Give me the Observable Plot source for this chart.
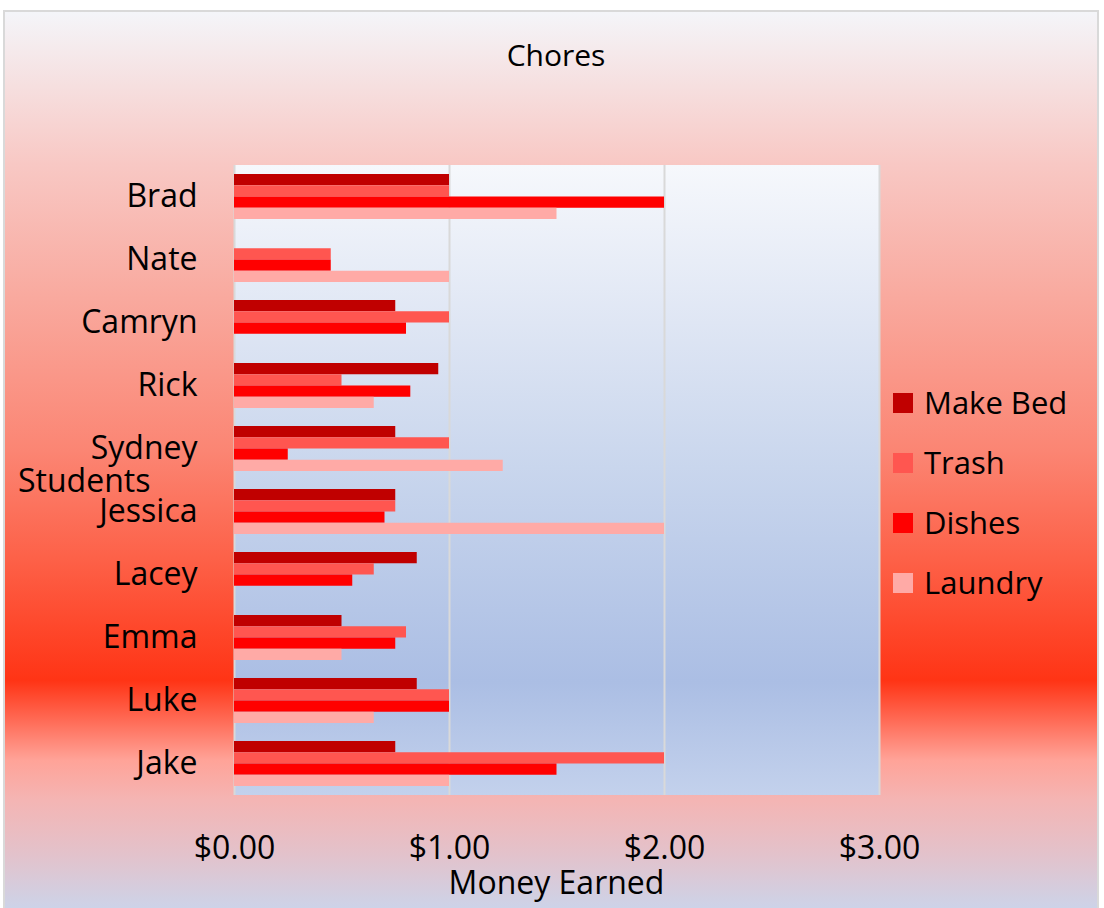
<!DOCTYPE html>
<html>
<head>
<meta charset="utf-8">
<script src="https://cdn.jsdelivr.net/npm/d3@7"></script>
<script src="https://cdn.jsdelivr.net/npm/@observablehq/plot@0.6"></script>
<style>
  html, body { margin: 0; padding: 0; background: #ffffff; }
  body { width: 1104px; height: 908px; position: relative; overflow: hidden; font-family: "Open Sans", sans-serif; }
  #frame { position: absolute; left: 3px; top: 10px; width: 1096px; height: 900px; border: 2px solid #d9d9d9; box-sizing: border-box;
    background: linear-gradient(to bottom, #f4f5f9 0%, #f8c8c4 17%, #f9a99e 32%, #fb8573 49%, #fd6148 61%, #ff3415 74.6%, #ff6a55 79%, #ffa398 83.5%, #f4b5b4 88%, #e3c2cb 94%, #cdd3e8 100%); }
  #plotbg { position: absolute; left: 234px; top: 165px; width: 645px; height: 630px;
    background: linear-gradient(to bottom, #f6f8fc 0%, #dfe6f4 25%, #c9d6ed 48%, #abbee4 82%, #c3d1ec 100%); }
  #chart { position: absolute; left: 0; top: 0; }
  #title { position: absolute; top: 34px; left: 0; width: 1112px; text-align: center; font-size: 30px; color: #000; }
  #ylabel { position: absolute; left: 18px; top: 464px; font-size: 32px; color: #000; line-height: 1; }
  #xlabel { position: absolute; left: 234px; width: 645px; top: 866px; text-align: center; font-size: 32px; color: #000; line-height: 1; }
  #legend { position: absolute; left: 893px; top: 386px; }
  .item { position: absolute; left: 0; height: 36px; white-space: nowrap; }
  .sw { position: absolute; left: 0; top: 7px; width: 20px; height: 20px; }
  .lab { position: absolute; left: 31px; top: -4px; font-size: 31px; line-height: 1.3; color: #000; }
</style>
</head>
<body>
<div id="frame"></div>
<div id="plotbg"></div>
<div id="chart"></div>
<div id="title">Chores</div>
<div id="ylabel">Students</div>
<div id="xlabel">Money Earned</div>
<div id="legend"></div>
<script>
const students = ["Brad", "Nate", "Camryn", "Rick", "Sydney", "Jessica", "Lacey", "Emma", "Luke", "Jake"];
const chores = ["Make Bed", "Trash", "Dishes", "Laundry"];
const makeBed = [1.00, 0.00, 0.75, 0.95, 0.75, 0.75, 0.85, 0.50, 0.85, 0.75];
const trash   = [1.00, 0.45, 1.00, 0.50, 1.00, 0.75, 0.65, 0.80, 1.00, 2.00];
const dishes  = [2.00, 0.45, 0.80, 0.82, 0.25, 0.70, 0.55, 0.75, 1.00, 1.50];
const laundry = [1.50, 1.00, 0.00, 0.65, 1.25, 2.00, 0.00, 0.50, 0.65, 1.00];
const choreColors = ["#c00000", "#ff5650", "#ff0000", "#ffaaa6"];
const xTicks = [0, 1, 2, 3];

const series = [makeBed, trash, dishes, laundry];
const rows = [];
students.forEach((s, i) => {
  chores.forEach((c, j) => rows.push({student: s, chore: c, value: series[j][i]}));
});

const plot = Plot.plot({
  width: 1104,
  height: 908,
  marginLeft: 234,
  marginRight: 225,
  marginTop: 165,
  marginBottom: 113,
  style: {background: "transparent", fontFamily: "Open Sans, sans-serif", fontSize: "32px", color: "#000"},
  x: {domain: [0, 3], ticks: xTicks, tickFormat: d3.format("$.2f"), tickSize: 0, tickPadding: 50, label: null, axis: "bottom"},
  y: {domain: chores, padding: 0, round: false, axis: null},
  fy: {domain: students, range: [165, 795], round: false, paddingInner: 0.2857, paddingOuter: 0.1429, axis: "left", tickSize: 0, tickPadding: 37, label: null},
  color: {domain: chores, range: choreColors},
  marks: [
    Plot.ruleX(xTicks, {stroke: "#d9d9d9", strokeWidth: 2, insetTop: -9, insetBottom: -9}),
    Plot.barX(rows, {x: "value", y: "chore", fy: "student", fill: "chore"})
  ]
});
document.getElementById("chart").appendChild(plot);

const legend = document.getElementById("legend");
chores.forEach((c, i) => {
  const it = document.createElement("div");
  it.className = "item";
  it.style.top = (i * 60) + "px";
  it.innerHTML = `<div class="sw" style="background:${choreColors[i]}"></div><div class="lab">${c}</div>`;
  legend.appendChild(it);
});
</script>
</body>
</html>
